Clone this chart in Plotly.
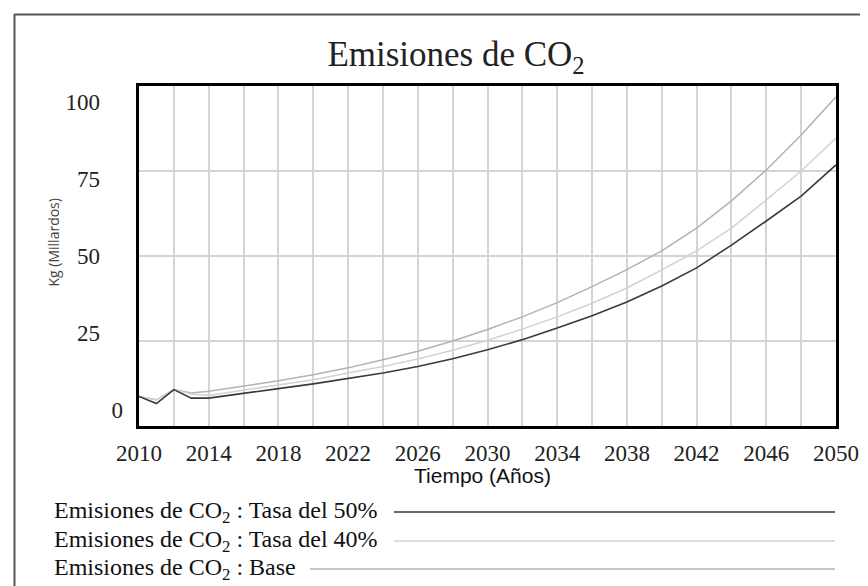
import plotly.graph_objects as go

# ---- data ----
years = [2010, 2011, 2012, 2013, 2014, 2016, 2018, 2020, 2022, 2024, 2026, 2028,
         2030, 2032, 2034, 2036, 2038, 2040, 2042, 2044, 2046, 2048, 2050]
tasa50 = [8.7, 6.6, 10.7, 8.2, 8.2, 9.7, 11.0, 12.4, 13.9, 15.6, 17.5, 19.8,
          22.4, 25.4, 28.8, 32.4, 36.5, 41.2, 46.5, 53.2, 60.3, 67.6, 76.8]
tasa40 = [8.7, 7.7, 10.7, 9.4, 9.0, 10.5, 12.0, 13.6, 15.6, 17.5, 19.7, 22.3,
          25.2, 28.5, 32.1, 36.1, 40.6, 45.9, 51.5, 58.2, 66.5, 75.0, 84.7]
base = [8.7, 7.7, 10.7, 9.7, 10.2, 11.7, 13.3, 15.1, 17.1, 19.5, 22.0, 25.0,
        28.4, 32.1, 36.3, 41.0, 46.0, 51.5, 58.2, 66.2, 75.3, 85.6, 96.8]

x_ticks = [2010, 2014, 2018, 2022, 2026, 2030, 2034, 2038, 2042, 2046, 2050]
y_ticks = [0, 25, 50, 75, 100]
NB = "\u00a0" * 4
y_ticktext = ["0", "25" + NB, "50" + NB, "75" + NB, "100" + NB]
legend_names = ["Emisiones de CO<sub>2</sub> : Tasa del 50%",
                "Emisiones de CO<sub>2</sub> : Tasa del 40%",
                "Emisiones de CO<sub>2</sub> : Base"]
colors = ["#3a3a3a", "#d2d2d2", "#b2b2b2"]

W, H = 868, 586
L, R, T, B = 131, 828, 78, 418
PW, PH = R - L, B - T

def px(x):
    return (x - L) / PW

def py(y):
    return (B - y) / PH

SERIF = "Liberation Serif"

fig = go.Figure()
fig.add_trace(go.Scatter(x=years, y=base, mode="lines",
                         line=dict(color=colors[2], width=1.5), showlegend=False))
fig.add_trace(go.Scatter(x=years, y=tasa40, mode="lines",
                         line=dict(color=colors[1], width=1.5), showlegend=False))
fig.add_trace(go.Scatter(x=years, y=tasa50, mode="lines",
                         line=dict(color=colors[0], width=1.6), showlegend=False))
# invisible trace to carry the label axis
fig.add_trace(go.Scatter(x=[2010], y=[0], yaxis="y2", mode="markers",
                         marker=dict(opacity=0), showlegend=False, hoverinfo="skip"))

fig.update_layout(
    width=W, height=H,
    margin=dict(l=L, r=W - R, t=T, b=H - B),
    paper_bgcolor="white", plot_bgcolor="white",
    title=dict(text="Emisiones de CO<sub>2</sub>", x=448 / W, xanchor="center",
               y=1 - 46 / H, yanchor="middle",
               font=dict(family=SERIF, size=35, color="#222")),
    xaxis=dict(range=[2010, 2050], tickvals=x_ticks, showgrid=True,
               gridcolor="#d4d4d4", gridwidth=1.5,
               minor=dict(dtick=2, tick0=2010, showgrid=True, gridcolor="#d4d4d4", gridwidth=1.5),
               showline=True, linecolor="black", linewidth=3, mirror=True,
               ticks="", zeroline=False, ticklabelstandoff=4,
               tickfont=dict(family=SERIF, size=23, color="#222")),
    yaxis=dict(range=[0, 100], dtick=25, showgrid=True, gridcolor="#d4d4d4", gridwidth=1.5,
               showticklabels=False, ticks="", zeroline=False,
               showline=True, linecolor="black", linewidth=3, mirror=True),
    yaxis2=dict(range=[-5.3, 105.1], overlaying="y", side="left", showgrid=False,
                zeroline=False, tickvals=y_ticks, ticktext=y_ticktext, ticks="",
                ticklabelstandoff=15,
                tickfont=dict(family=SERIF, size=23, color="#222"),
                showline=False),
)

# axis titles
fig.add_annotation(text="Tiempo (Años)", xref="paper", yref="paper",
                   x=px(474), y=py(467), xanchor="center", yanchor="middle", showarrow=False,
                   font=dict(family="Liberation Sans", size=21, color="#111"))
fig.add_annotation(text="Kg (Millardos)", textangle=-90, xref="paper", yref="paper",
                   x=px(33), y=py(235), showarrow=False,
                   font=dict(family="Open Sans", size=14, color="#444"))

# legend rows: text followed by a long line sample
rows_y = [504, 533, 561]
line_start = [386, 386, 302]
for name, c, yy, xs in zip(legend_names, colors, rows_y, line_start):
    fig.add_annotation(text=name, xref="paper", yref="paper", x=px(44), y=py(yy),
                       xanchor="left", yanchor="middle", showarrow=False,
                       font=dict(family=SERIF, size=24, color="#111"))
    fig.add_shape(type="line", xref="paper", yref="paper", x0=px(xs), x1=px(827),
                  y0=py(yy), y1=py(yy), line=dict(color=c, width=1.6))

# outer frame (top and left edges)
fig.add_shape(type="line", xref="paper", yref="paper", x0=px(6), x1=px(868),
              y0=py(6.5), y1=py(6.5), line=dict(color="#555", width=2))
fig.add_shape(type="line", xref="paper", yref="paper", x0=px(6.5), x1=px(6.5),
              y0=py(6), y1=py(586), line=dict(color="#555", width=2))

fig.write_html("out.html")
